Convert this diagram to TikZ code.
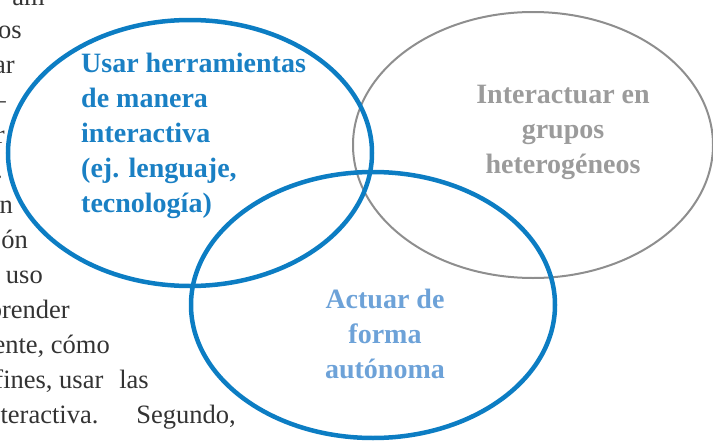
\documentclass[tikz,border=0pt]{standalone}
\usepackage{fontspec}
\setmainfont{Liberation Serif}
\definecolor{ringblue}{HTML}{0C7DC3}
\definecolor{labblue}{HTML}{1A80C4}
\definecolor{lightblue}{HTML}{6DA2D8}
\definecolor{ringgray}{HTML}{8E8E8E}
\definecolor{labgray}{HTML}{9B9B9B}
\definecolor{bodytext}{HTML}{333333}
\tikzset{
  bluering/.style={draw=ringblue, line width=4.5pt},
  grayring/.style={draw=ringgray, line width=2pt},
  label/.style={inner sep=0pt, font=\fontsize{28}{35}\selectfont\bfseries},
  bodyfrag/.style={inner sep=0pt, anchor=base east, text=bodytext, font=\fontsize{26.5}{35}\selectfont}
}
\begin{document}
\begin{tikzpicture}[x=1pt,y=-1pt]
\useasboundingbox (0,0) rectangle (713,442);
\clip (0,0) rectangle (713,442);
% body text fragments
\node[bodyfrag] (b1) at (45,5) {am};
\node[bodyfrag] (b2) at (22,38) {os};
\node[bodyfrag] (b3) at (15,73) {ar};
\node[bodyfrag] (b4) at (6,108) {–};
\node[bodyfrag] (b5) at (5,143) {r};
\node[bodyfrag] (b6) at (3,178) {.};
\node[bodyfrag] (b7) at (13,213) {n};
\node[bodyfrag] (b8) at (28,248) {ón};
\node[bodyfrag] (b9) at (43,283) {uso};
\node[bodyfrag] (b10) at (70,318) {prender};
\node[bodyfrag] (b11) at (110,353) {ente, cómo};
\node[bodyfrag] (b12) at (149,388) {fines, usar\hspace{16pt}las};
\node[bodyfrag] (b13) at (236,423) {teractiva.\hspace{38pt}Segundo,};
% rings
\draw[grayring] (533,145) ellipse [x radius=180, y radius=133];
\draw[bluering] (190,153) ellipse [x radius=182, y radius=133];
\draw[bluering] (373,305) ellipse [x radius=182, y radius=133];
% labels (anchor = baseline of last line)
\node[label, text=labblue, align=left, anchor=base west] (l1) at (81,212)
  {Usar herramientas\\de manera\\interactiva\\(ej. lenguaje,\\tecnología)};
\node[label, text=labgray, align=center, anchor=base] (l2) at (563,173)
  {Interactuar en\\grupos\\heterogéneos};
\node[label, text=lightblue, align=center, anchor=base] (l3) at (385,378)
  {Actuar de\\forma\\autónoma};
\end{tikzpicture}
\end{document}
